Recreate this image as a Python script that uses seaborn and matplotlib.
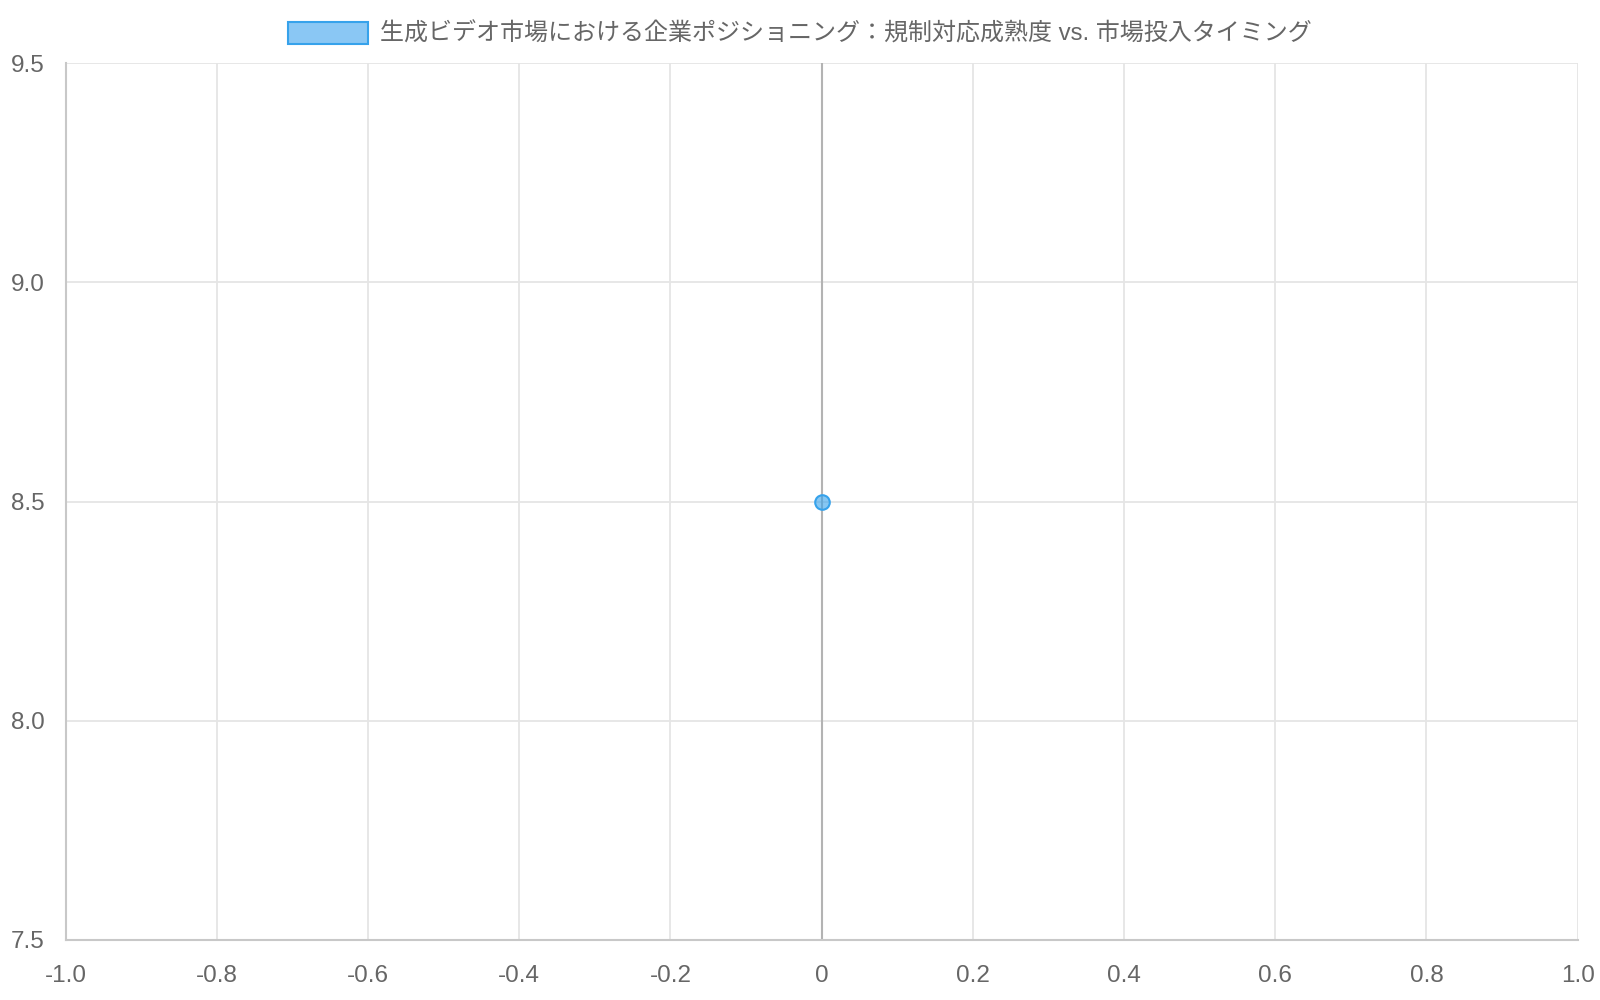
import seaborn as sns
import matplotlib.pyplot as plt
from matplotlib.patches import Patch
import numpy as np
import pandas as pd

# data
label = "生成ビデオ市場における企業ポジショニング：規制対応成熟度 vs. 市場投入タイミング"
x_vals = [0.0]
y_vals = [8.5]
x_ticks = [-1.0, -0.8, -0.6, -0.4, -0.2, 0, 0.2, 0.4, 0.6, 0.8, 1.0]
x_tick_labels = ["-1.0", "-0.8", "-0.6", "-0.4", "-0.2", "0", "0.2", "0.4", "0.6", "0.8", "1.0"]
y_ticks = [7.5, 8.0, 8.5, 9.0, 9.5]
y_tick_labels = ["7.5", "8.0", "8.5", "9.0", "9.5"]

df = pd.DataFrame({"x": x_vals, "y": y_vals})

sns.set_style("white")
plt.rcParams['font.family'] = ['Liberation Sans', 'Noto Sans CJK JP', 'DejaVu Sans']

fig = plt.figure(figsize=(16, 10), dpi=100)
ax = fig.add_axes([0.041, 0.06, 0.945, 0.877])

grid_col = "#e5e5e5"
text_col = "#666666"

sns.scatterplot(data=df, x="x", y="y", ax=ax, s=110,
                color=(54/255, 162/255, 235/255, 0.6),
                edgecolor="#36a2eb", linewidth=1.5, zorder=5)

ax.set_xlim(-1.0, 1.0)
ax.set_ylim(7.5, 9.5)
ax.set_xticks(x_ticks)
ax.set_xticklabels(x_tick_labels)
ax.set_yticks(y_ticks)
ax.set_yticklabels(y_tick_labels)
ax.set_xlabel("")
ax.set_ylabel("")

ax.grid(True, color=grid_col, linewidth=1.3, zorder=0)
ax.set_axisbelow(True)
ax.axvline(0, color="#b3b3b3", linewidth=1.5, zorder=1)

for side in ["top", "right"]:
    ax.spines[side].set_visible(False)
for side in ["left", "bottom"]:
    ax.spines[side].set_color("#c8c8c8")
    ax.spines[side].set_linewidth(1.5)

ax.tick_params(axis="both", length=14, width=1.3, color=grid_col,
               labelcolor=text_col, labelsize=17.5)
ax.tick_params(axis="x", pad=4)
ax.tick_params(axis="y", pad=1)

handle = Patch(facecolor="#8ac7f4", edgecolor="#36a2eb", linewidth=1.5)
fig.legend([handle], [label], loc="center", bbox_to_anchor=(0.5, 0.966),
           frameon=False, fontsize=17.3, labelcolor=text_col,
           handlelength=3.3, handleheight=1.0, handletextpad=0.5)

fig.savefig("out.png", dpi=100)
